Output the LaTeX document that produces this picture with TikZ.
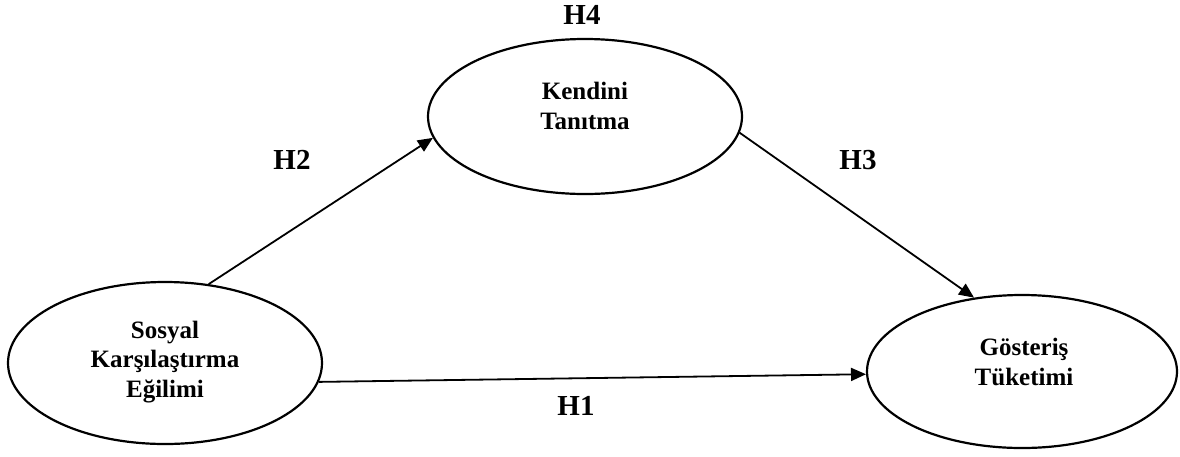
\documentclass[tikz,border=0pt]{standalone}
\usepackage{fontspec}
\setmainfont{Liberation Serif}
\usetikzlibrary{arrows.meta,shapes.geometric}
\begin{document}
\begin{tikzpicture}[x=1pt,y=-1pt,
  construct/.style={ellipse,draw,line width=2.2pt,inner sep=0pt},
  ctext/.style={align=center,font=\fontsize{25}{29.5}\selectfont\bfseries,inner sep=0pt},
  hlabel/.style={font=\fontsize{29}{30}\selectfont\bfseries,inner sep=0pt},
  path/.style={line width=1.8pt,-{Triangle[length=15pt,width=13pt]}}]
\useasboundingbox (0,0) rectangle (1180,456);
\node[construct,minimum width=314pt,minimum height=162pt] (L) at (165,363) {};
\node[construct,minimum width=314pt,minimum height=155pt] (T) at (585,116.5) {};
\node[construct,minimum width=310pt,minimum height=153pt] (R) at (1022,371.5) {};
\node[ctext] (Ltext) at (165,362) {Sosyal\\Karşılaştırma\\Eğilimi};
\node[ctext] (Ttext) at (585,106) {Kendini\\Tanıtma};
\node[ctext] (Rtext) at (1024,362) {Gösteriş\\Tüketimi};
\draw[path] (L.61) -- (T.188);
\draw[path] (T.-6) -- (R.123);
\draw[path] (L.-7) -- (R.181);
\node[hlabel] (H4) at (582,15) {H4};
\node[hlabel] (H2) at (292,160) {H2};
\node[hlabel] (H3) at (858,160) {H3};
\node[hlabel] (H1) at (576,406) {H1};
\end{tikzpicture}
\end{document}
